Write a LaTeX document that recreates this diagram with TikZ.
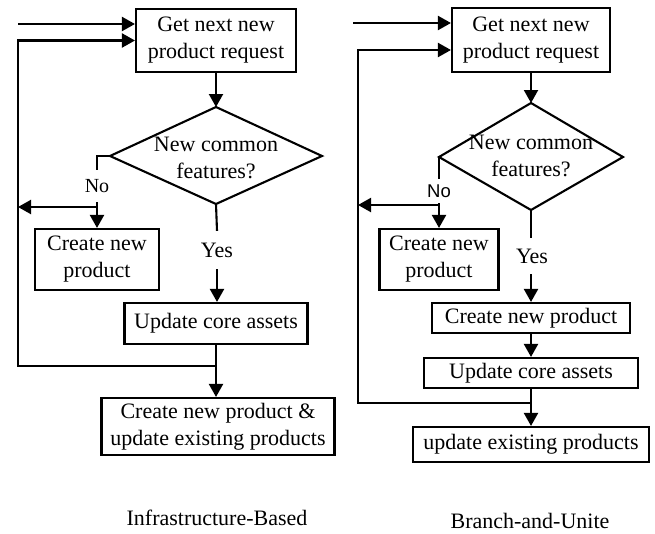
\documentclass[tikz,border=0pt]{standalone}
\usepackage{fontspec}
\setmainfont{Liberation Serif}
\newfontfamily\arialfont{Liberation Sans}
\usetikzlibrary{arrows.meta}
\begin{document}
\begin{tikzpicture}[x=1pt,y=-1pt,
  line width=2.1pt,
  tip/.style={-{Triangle[length=13pt,width=14pt]}},
  box/.style={draw,rectangle,inner sep=0pt,align=center,font=\fontsize{22}{27}\selectfont},
  lbl/.style={inner sep=0pt,align=center,font=\fontsize{22}{27}\selectfont},
  sanslbl/.style={inner sep=0pt,font=\arialfont\fontsize{18.5}{20}\selectfont}
]
\useasboundingbox (0,0) rectangle (655,533);

% ---------------- left: Infrastructure-Based ----------------
\node[box,minimum width=160pt,minimum height=63pt] (g1) at (216,40.5) {Get next new\\product request};
\coordinate (d1t) at (216,107);
\coordinate (d1l) at (110,156);
\coordinate (d1r) at (322,156);
\coordinate (d1b) at (216,204);
\draw (d1t) -- (d1r) -- (d1b) -- (d1l) -- cycle;
\node[lbl] (d1) at (216,158) {New common\\features?};
\node[box,minimum width=124pt,minimum height=61pt] (c1) at (97,259.5) {Create new\\product};
\node[lbl,font=\fontsize{20}{24}\selectfont,minimum height=30pt] (no1) at (97,186) {No};
\node[lbl,minimum height=36pt] (y1) at (217,250) {Yes};
\node[box,minimum width=183pt,minimum height=41pt] (u1) at (216,323.5) {Update core assets};
\node[box,minimum width=233pt,minimum height=57pt] (f1) at (218,426.5) {Create new product \&\\update existing products};
\node[lbl] (cap1) at (217,518) {Infrastructure-Based};

\coordinate (in1) at (18,24);
\coordinate (lp1) at (18,366);
\coordinate (jb1) at (216,366);
\coordinate (j1) at (97,207);

\draw[tip] (in1) -- (in1 -| g1.west);
\draw[tip] (g1.south) -- (d1t);
\draw (d1l) -| (no1.north);
\draw[tip] (no1.south) -- (c1.north);
\draw[tip] (j1) -- (j1 -| lp1);
\draw (d1b) -- (y1.north);
\draw[tip] (y1.south) -- (y1.south |- u1.north);
\draw (u1.south) -- (jb1);
\draw[tip] (jb1) -- (jb1 |- f1.north);
\draw[tip] (jb1) -- (lp1) |- (g1.west);

% ---------------- right: Branch-and-Unite ----------------
\node[box,minimum width=158pt,minimum height=64pt] (g2) at (531,40) {Get next new\\product request};
\coordinate (d2t) at (531,103);
\coordinate (d2l) at (439,157);
\coordinate (d2r) at (623,157);
\coordinate (d2b) at (531,210);
\draw (d2t) -- (d2r) -- (d2b) -- (d2l) -- cycle;
\node[lbl] (d2) at (531,156) {New common\\features?};
\node[box,minimum width=119pt,minimum height=61pt] (c2) at (439,259.5) {Create new\\product};
\node[sanslbl,minimum height=22pt] (no2) at (439,191) {No};
\node[lbl,minimum height=34pt] (y2) at (532,256) {Yes};
\node[box,minimum width=198pt,minimum height=30pt] (c3) at (531,318) {Create new product};
\node[box,minimum width=214pt,minimum height=30pt] (u2) at (531,373) {Update core assets};
\node[box,minimum width=236pt,minimum height=35pt] (f2) at (531,444.5) {update existing products};
\node[lbl] (cap2) at (530,521) {Branch-and-Unite};

\coordinate (in2) at (353,23);
\coordinate (lt2) at (358,50);
\coordinate (lp2) at (358,403);
\coordinate (jb2) at (531,403);
\coordinate (j2) at (439,205);

\draw[tip] (in2) -- (in2 -| g2.west);
\draw[tip] (g2.south) -- (d2t);
\draw (d2l) -- (no2.north);
\draw[tip] (no2.south) -- (c2.north);
\draw[tip] (j2) -- (j2 -| lp2);
\draw (d2b) -- (d2b |- y2.north);
\draw[tip] (d2b |- y2.south) -- (c3.north);
\draw[tip] (c3.south) -- (u2.north);
\draw (u2.south) -- (jb2);
\draw[tip] (jb2) -- (f2.north);
\draw[tip] (jb2) -- (lp2) -- (lt2) -- (lt2 -| g2.west);
\end{tikzpicture}
\end{document}
